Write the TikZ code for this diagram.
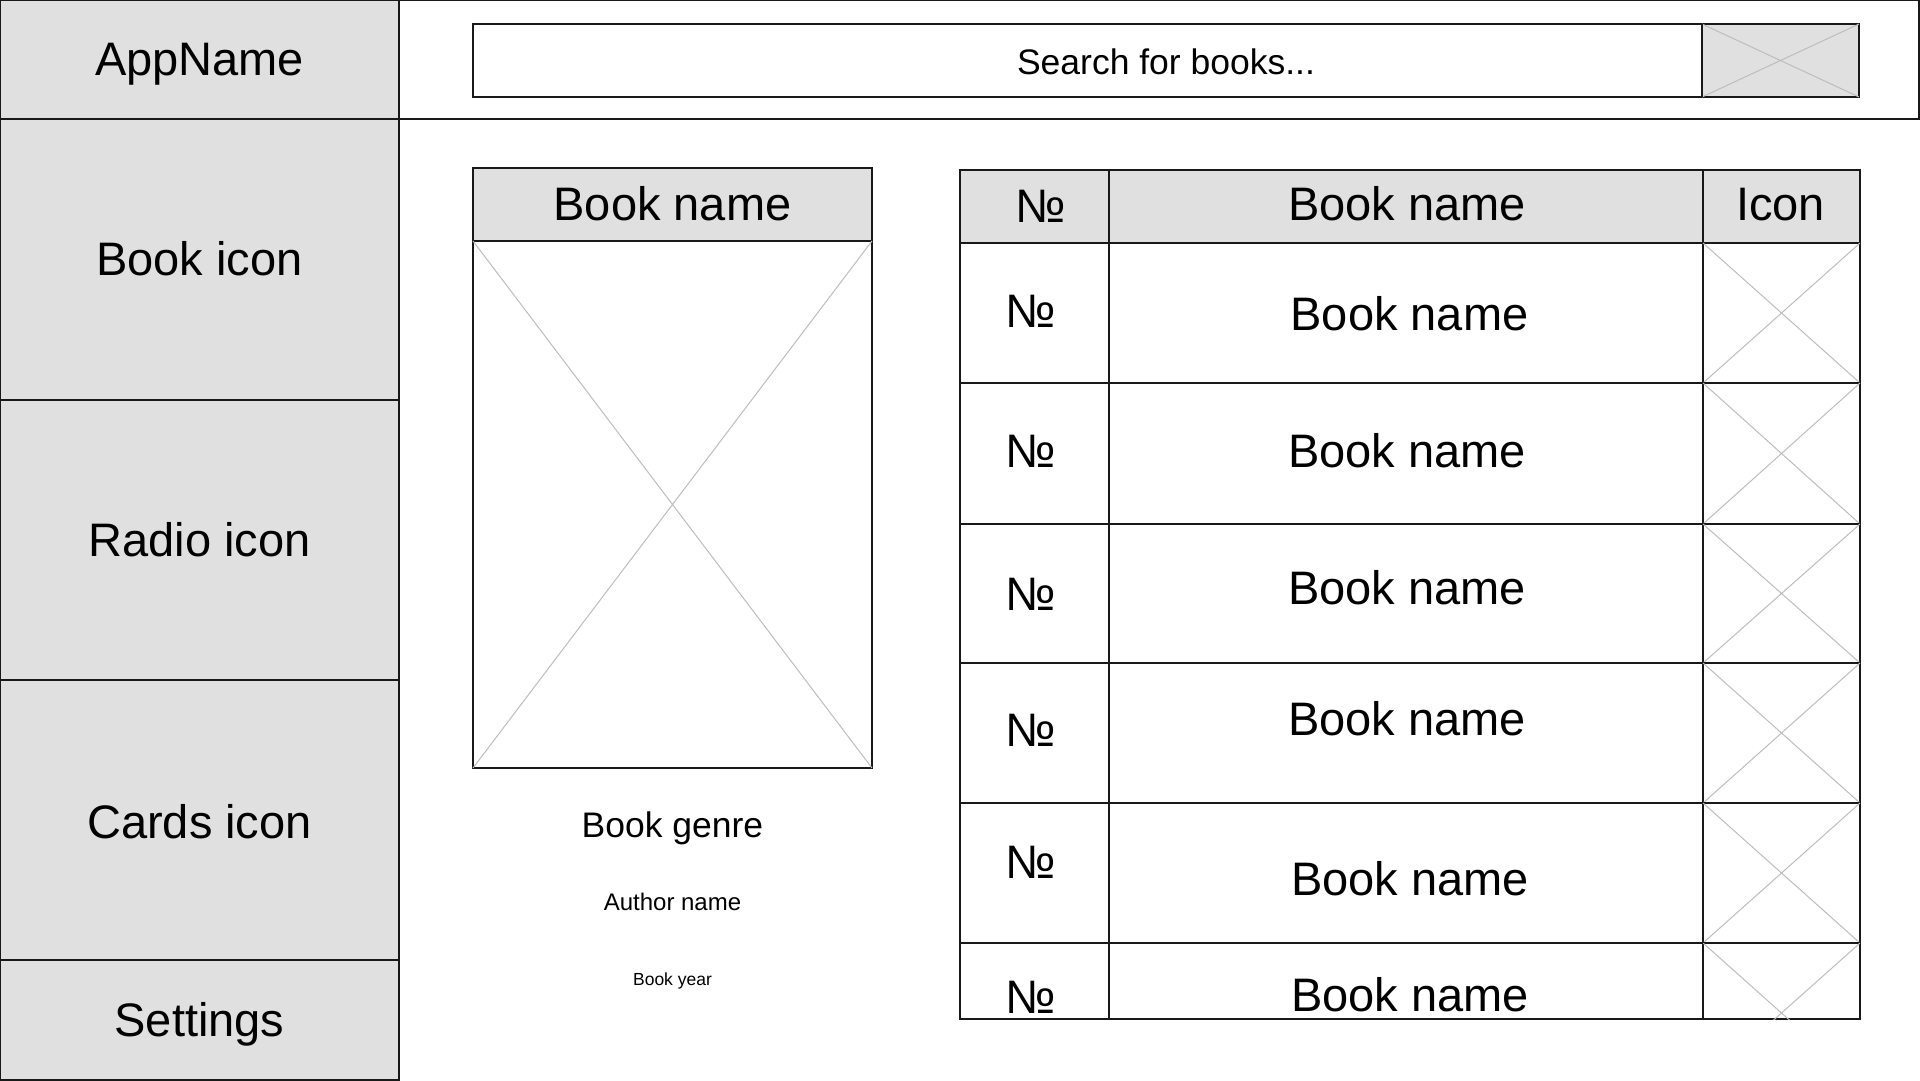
\documentclass[tikz,border=0pt]{standalone}
\usepackage{fontspec}
\setmainfont{Liberation Sans}
\definecolor{boxgray}{HTML}{E0E0E0}
\definecolor{xgray}{HTML}{BDBDBD}
\begin{document}
\begin{tikzpicture}[x=1pt,y=-1pt,
  box/.style={draw=black!90, line width=1.5pt, inner sep=0pt, outer sep=0pt, anchor=north west},
  gbox/.style={box, fill=boxgray},
  xline/.style={draw=xgray, line width=1pt},
  big/.style={font=\fontsize{47}{56}\selectfont, inner sep=0pt, anchor=base},
  mid/.style={font=\fontsize{35.5}{42}\selectfont, inner sep=0pt, anchor=base},
  small/.style={font=\fontsize{24}{29}\selectfont, inner sep=0pt, anchor=base},
  tiny/.style={font=\fontsize{17.5}{21}\selectfont, inner sep=0pt, anchor=base}]
\useasboundingbox (0,0) rectangle (1920,1080);
\fill[white] (0,0) rectangle (1920,1080);

% sidebar
\node[gbox, minimum width=399pt, minimum height=119pt] (sApp) at (0,0) {};
\node[gbox, minimum width=399pt, minimum height=281pt] (sBook) at (0,119) {};
\node[gbox, minimum width=399pt, minimum height=280pt] (sRadio) at (0,400) {};
\node[gbox, minimum width=399pt, minimum height=280pt] (sCards) at (0,680) {};
\node[gbox, minimum width=399pt, minimum height=120pt] (sSet) at (0,960) {};
\node[big] (tApp) at (199.5,75) {AppName};
\node[big] (tBook) at (199.5,275.5) {Book icon};
\node[big] (tRadio) at (199.5,556) {Radio icon};
\node[big] (tCards) at (199.5,838) {Cards icon};
\node[big] (tSet) at (199.5,1036) {Settings};

% top bar
\node[box, minimum width=1520pt, minimum height=119pt] (topbar) at (399,0) {};
\node[box, minimum width=1386pt, minimum height=73pt] (search) at (473,24) {};
\node[mid] (tSearch) at (1166,74.5) {Search for books...};
\node[gbox, minimum width=157pt, minimum height=73pt] (btn) at (1702,24) {};
\draw[xline] (btn.north west) -- (btn.south east) (btn.north east) -- (btn.south west);
\draw[line width=1.5pt, draw=black!90] (btn.north west) -- (btn.south west);

% book card
\node[gbox, minimum width=399pt, minimum height=73pt] (cHead) at (473,168) {};
\node[big] (tCHead) at (672.5,220.5) {Book name};
\node[box, minimum width=399pt, minimum height=527pt] (cImg) at (473,241) {};
\draw[xline] (cImg.north west) -- (cImg.south east) (cImg.north east) -- (cImg.south west);
\node[mid] (tGenre) at (672.5,837) {Book genre};
\node[small] (tAuthor) at (672.5,910) {Author name};
\node[tiny] (tYear) at (672.5,985) {Book year};

% table header
\node[gbox, minimum width=149pt, minimum height=73pt] (h-a) at (960,170) {};
\node[gbox, minimum width=594pt, minimum height=73pt] (h-b) at (1109,170) {};
\node[gbox, minimum width=157pt, minimum height=73pt] (h-c) at (1703,170) {};
\node[big] (th-a) at (1041,222.5) {№};
\node[big] (th-b) at (1407,220) {Book name};
\node[big] (th-c) at (1780.5,220) {Icon};

% table rows
\foreach \i/\t/\h/\yn/\yb/\xb in {1/243/140/327/330/1409.5, 2/383/141/467/467/1407, 3/524/139/610/604/1407, 4/663/140/746/735/1407, 5/803/140/878/895/1410}{
  \node[box, minimum width=149pt, minimum height=\h pt] (r\i-a) at (960,\t) {};
  \node[box, minimum width=594pt, minimum height=\h pt] (r\i-b) at (1109,\t) {};
  \node[box, minimum width=157pt, minimum height=\h pt] (r\i-c) at (1703,\t) {};
  \draw[xline] (r\i-c.north west) -- (r\i-c.south east) (r\i-c.north east) -- (r\i-c.south west);
  \node[big] (tn\i) at (1031,\yn) {№};
  \node[big] (tb\i) at (\xb,\yb) {Book name};
}
% last (cut) row
\node[box, minimum width=149pt, minimum height=76pt] (r6-a) at (960,943) {};
\node[box, minimum width=594pt, minimum height=76pt] (r6-b) at (1109,943) {};
\node[box, minimum width=157pt, minimum height=76pt] (r6-c) at (1703,943) {};
\begin{scope}
  \clip (r6-c.north west) rectangle (r6-c.south east);
  \draw[xline] (r6-c.north west) -- ++(157,140) (r6-c.north east) -- ++(-157,140);
\end{scope}
\node[big] (tn6) at (1031,1013) {№};
\node[big] (tb6) at (1410,1011) {Book name};
\end{tikzpicture}
\end{document}
